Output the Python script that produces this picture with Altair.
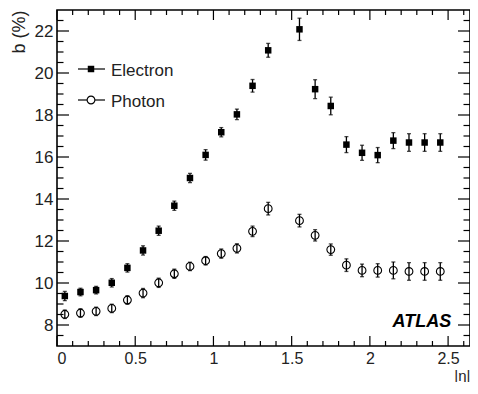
import altair as alt
import pandas as pd

# ---- data ----
eta = [0.05, 0.15, 0.25, 0.35, 0.45, 0.55, 0.65, 0.75, 0.85, 0.95, 1.05, 1.15,
       1.25, 1.35, 1.55, 1.65, 1.75, 1.85, 1.95, 2.05, 2.15, 2.25, 2.35, 2.45]
electron = [9.38, 9.57, 9.66, 10.01, 10.72, 11.55, 12.49, 13.68, 15.0, 16.1, 17.18, 18.03,
            19.39, 21.08, 22.08, 19.23, 18.43, 16.59, 16.2, 16.09, 16.78, 16.69, 16.69, 16.69]
electron_err = [0.22, 0.18, 0.18, 0.2, 0.2, 0.22, 0.22, 0.22, 0.22, 0.25, 0.22, 0.25,
                0.3, 0.33, 0.53, 0.45, 0.42, 0.38, 0.36, 0.36, 0.38, 0.42, 0.42, 0.42]
photon = [8.51, 8.57, 8.65, 8.79, 9.19, 9.52, 10.01, 10.44, 10.79, 11.06, 11.4, 11.65,
          12.46, 13.54, 12.97, 12.27, 11.59, 10.85, 10.6, 10.6, 10.6, 10.55, 10.55, 10.55]
photon_err = [0.2, 0.2, 0.2, 0.2, 0.2, 0.22, 0.22, 0.22, 0.2, 0.2, 0.22, 0.22,
              0.25, 0.3, 0.3, 0.27, 0.27, 0.3, 0.3, 0.32, 0.4, 0.42, 0.42, 0.42]

legend_labels = ["Electron", "Photon"]
experiment_label = ["ATLAS"]
x_title = "|η|"
y_title = "b (%)"

x_major = [0, 0.5, 1.0, 1.5, 2.0, 2.5]
x_minor = [0.1, 0.2, 0.3, 0.4, 0.6, 0.7, 0.8, 0.9, 1.1, 1.2, 1.3, 1.4, 1.6, 1.7,
           1.8, 1.9, 2.1, 2.2, 2.3, 2.4, 2.6]
y_major = [8, 10, 12, 14, 16, 18, 20, 22]
y_minor = [7.5, 8.5, 9, 9.5, 10.5, 11, 11.5, 12.5, 13, 13.5, 14.5, 15, 15.5, 16.5,
           17, 17.5, 18.5, 19, 19.5, 20.5, 21, 21.5, 22.5]

FONT = "Liberation Sans"
W, H = 413, 336

df_e = pd.DataFrame({"eta": eta, "b": electron,
                     "lo": [v - e for v, e in zip(electron, electron_err)],
                     "hi": [v + e for v, e in zip(electron, electron_err)]})
df_p = pd.DataFrame({"eta": eta, "b": photon,
                     "lo": [v - e for v, e in zip(photon, photon_err)],
                     "hi": [v + e for v, e in zip(photon, photon_err)]})

xs = alt.Scale(domain=[0, 2.64], nice=False, zero=False)
ys = alt.Scale(domain=[7, 23], nice=False, zero=False)

x_axis = alt.Axis(values=x_major, format=".1~f", domain=False, ticks=False, grid=False,
                  labelFont=FONT, labelFontSize=16, labelColor="#222", labelPadding=4,
                  title=x_title, titleFont=FONT, titleFontSize=15, titleFontWeight="normal",
                  titleColor="#222", titleX=W, titleY=34, titleAlign="right",
                  titleBaseline="alphabetic")
y_axis = alt.Axis(values=y_major, format="d", domain=False, ticks=False, grid=False,
                  labelFont=FONT, labelFontSize=17, labelColor="#222", labelPadding=4,
                  title=y_title, titleFont=FONT, titleFontSize=18, titleFontWeight="normal",
                  titleColor="#222", titleX=-38, titleY=0, titleAngle=-90,
                  titleAlign="right", titleBaseline="middle")


def X(field):
    return alt.X(field, type="quantitative", scale=xs, axis=x_axis)


def Y(field):
    return alt.Y(field, type="quantitative", scale=ys, axis=y_axis)


layers = []

# tick marks (inward), driven by tick value lists through the scales
def xticks(vals, length):
    d = pd.DataFrame({"v": vals})
    bot = alt.Chart(d).mark_rule(color="black", strokeWidth=1.2).encode(
        x=X("v"), y=alt.value(H), y2=alt.value(H - length))
    top = alt.Chart(d).mark_rule(color="black", strokeWidth=1.2).encode(
        x=X("v"), y=alt.value(0), y2=alt.value(length))
    return [bot, top]


def yticks(vals, length):
    d = pd.DataFrame({"v": vals})
    lft = alt.Chart(d).mark_rule(color="black", strokeWidth=1.2).encode(
        y=Y("v"), x=alt.value(0), x2=alt.value(length))
    rgt = alt.Chart(d).mark_rule(color="black", strokeWidth=1.2).encode(
        y=Y("v"), x=alt.value(W), x2=alt.value(W - length))
    return [lft, rgt]


layers += xticks(x_major, 10) + xticks(x_minor, 5)
layers += yticks(y_major, 12) + yticks(y_minor, 6.5)


def series(df, filled, shape, size):
    bars = alt.Chart(df).mark_rule(color="black", strokeWidth=1.3).encode(
        x=X("eta"), y=Y("lo"), y2="hi:Q")
    cap_lo = alt.Chart(df).mark_tick(orient="horizontal", color="black", size=4,
                                     thickness=1.3).encode(x=X("eta"), y=Y("lo"))
    cap_hi = alt.Chart(df).mark_tick(orient="horizontal", color="black", size=4,
                                     thickness=1.3).encode(x=X("eta"), y=Y("hi"))
    if filled:
        pts = alt.Chart(df).mark_point(shape=shape, filled=True, color="black",
                                       size=size, opacity=1)
    else:
        pts = alt.Chart(df).mark_point(shape=shape, filled=False, color="black",
                                       strokeWidth=1.1, size=size, opacity=1)
    pts = pts.encode(x=X("eta"), y=Y("b"))
    return [bars, cap_lo, cap_hi, pts]


layers += series(df_e, True, "square", 42)
layers += series(df_p, False, "circle", 60)

# legend (drawn inside the frame)
leg_rows = [(legend_labels[0], True, "square", 42, 59), (legend_labels[1], False, "circle", 60, 90)]
for lab, filled, shape, size, yy in leg_rows:
    d = pd.DataFrame({"label": [lab]})
    layers.append(alt.Chart(d).mark_rule(color="black", strokeWidth=1.2).encode(
        x=alt.value(21), x2=alt.value(48), y=alt.value(yy)))
    if filled:
        m = alt.Chart(d).mark_point(shape=shape, filled=True, color="black", size=size, opacity=1)
    else:
        m = alt.Chart(d).mark_point(shape=shape, filled=False, fill="white", color="black",
                                    strokeWidth=1.1, size=size, opacity=1)
    layers.append(m.encode(x=alt.value(34), y=alt.value(yy)))
    layers.append(alt.Chart(d).mark_text(align="left", baseline="middle", font=FONT,
                                         fontSize=17, color="#222").encode(
        x=alt.value(54), y=alt.value(yy + 2), text="label:N"))

# ATLAS label
atlas_df = pd.DataFrame({"t": experiment_label, "x": [2.52], "y": [8.15]})
layers.append(alt.Chart(atlas_df).mark_text(align="right", baseline="middle", font=FONT,
                                            fontSize=18, fontWeight="bold",
                                            fontStyle="italic", color="black").encode(
    x=X("x"), y=Y("y"), text="t:N"))

chart = alt.layer(*layers).properties(
    width=W, height=H, autosize="none",
    padding={"left": 49, "top": 2, "right": 0, "bottom": 36},
).configure(background="white").configure_view(stroke="black", strokeWidth=1.6)

chart.save("out.html", embed_options={"renderer": "svg", "actions": False})
